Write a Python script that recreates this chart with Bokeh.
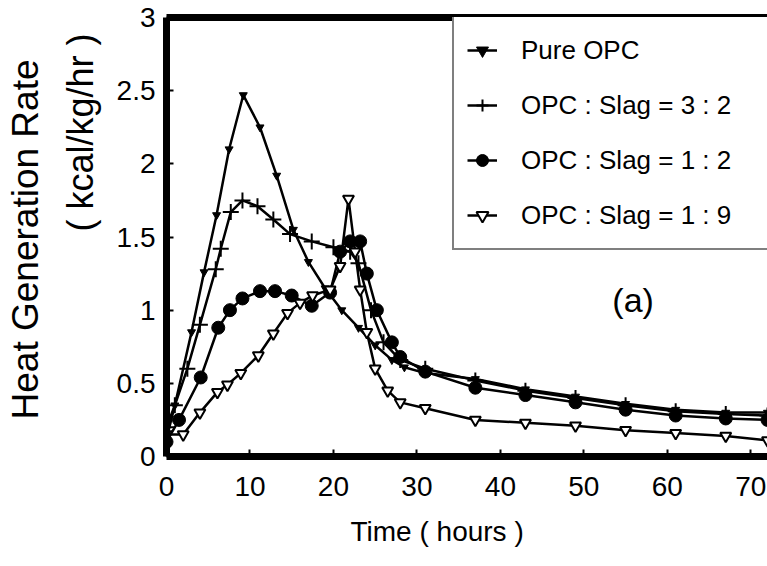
from bokeh.plotting import figure
from bokeh.models import (Range1d, FixedTicker, LinearAxis, Label, Legend,
                          LegendItem, Title)
from bokeh.embed import file_html
from bokeh.resources import INLINE

FONT = "Liberation Sans"

# ---------------- data ----------------
x_ticks = [0, 10, 20, 30, 40, 50, 60, 70]
y_ticks = [0, 0.5, 1, 1.5, 2, 2.5, 3]
y_tick_labels = ["0", "0.5", "1", "1.5", "2", "2.5", "3"]

series_names = ["Pure OPC", "OPC : Slag = 3 : 2", "OPC : Slag = 1 : 2",
                "OPC : Slag = 1 : 9"]

pure_t = [0, 1, 3, 4.5, 6, 7.5, 9.2, 11.2, 13.2, 15.2, 17, 19, 21, 23, 25,
          27, 28.5, 31, 37, 43, 49, 55, 61, 67, 72]
pure_y = [0.12, 0.35, 0.85, 1.26, 1.65, 2.1, 2.47, 2.25, 1.92, 1.55, 1.33,
          1.15, 1.0, 0.88, 0.76, 0.66, 0.61, 0.57, 0.53, 0.46, 0.41, 0.36,
          0.32, 0.3, 0.3]

s32_t = [0, 1, 2.5, 4, 5.9, 6.5, 7.7, 9.1, 10.9, 12.8, 14.8, 17.4, 20, 22,
         23, 24.5, 26, 28, 31, 37, 43, 49, 55, 61, 67, 72]
s32_y = [0.2, 0.35, 0.6, 0.9, 1.28, 1.42, 1.67, 1.75, 1.71, 1.62, 1.52, 1.47,
         1.43, 1.4, 1.32, 1.0, 0.78, 0.66, 0.6, 0.52, 0.45, 0.4, 0.35, 0.31,
         0.29, 0.28]

s12_t = [0, 1.5, 4.1, 6.2, 7.6, 9.1, 11.2, 13, 15, 17.4, 19.6, 20.8, 22,
         23.2, 24, 25.2, 27, 28, 31, 37, 43, 49, 55, 61, 67, 72]
s12_y = [0.1, 0.25, 0.54, 0.88, 1.0, 1.08, 1.13, 1.13, 1.1, 1.03, 1.12, 1.4,
         1.47, 1.47, 1.25, 1.0, 0.78, 0.68, 0.58, 0.47, 0.42, 0.37, 0.32,
         0.28, 0.26, 0.25]

s19_t = [0, 2, 4, 6.1, 7.3, 8.9, 11, 12.8, 14.5, 16, 17.5, 19.6, 20.8, 21.8,
         22.6, 23.2, 24, 25, 26.5, 28, 31, 37, 43, 49, 55, 61, 67, 72]
s19_y = [0.15, 0.15, 0.3, 0.44, 0.49, 0.57, 0.69, 0.84, 0.98, 1.05, 1.1,
         1.14, 1.3, 1.76, 1.4, 1.14, 0.85, 0.6, 0.45, 0.37, 0.33, 0.25, 0.23,
         0.21, 0.18, 0.16, 0.14, 0.11]

# ---------------- figure ----------------
p = figure(width=767, height=566, output_backend="svg", toolbar_location=None,
           x_range=Range1d(0, 72), y_range=Range1d(0, 3.0),
           min_border_left=166, min_border_right=0, min_border_top=17,
           min_border_bottom=110)
p.grid.visible = False
p.outline_line_color = None
p.background_fill_color = "white"

for ax, ticks in ((p.xaxis[0], x_ticks), (p.yaxis[0], y_ticks)):
    ax.ticker = FixedTicker(ticks=ticks)
    ax.axis_line_color = "black"
    ax.axis_line_width = 7
    ax.major_tick_in = 7
    ax.major_tick_out = 0
    ax.major_tick_line_width = 2
    ax.minor_tick_line_color = None
    ax.major_label_text_font = FONT
    ax.major_label_text_font_size = "28px"
    ax.major_label_text_color = "black"

p.xaxis[0].major_label_standoff = 20
p.yaxis[0].major_label_standoff = 11
p.yaxis[0].major_label_overrides = {t: s for t, s in zip(y_ticks, y_tick_labels)}

top = LinearAxis(ticker=FixedTicker(ticks=[]), axis_line_width=7,
                 axis_line_color="black", major_label_text_font_size="0px",
                 major_tick_line_color=None, minor_tick_line_color=None)
p.add_layout(top, "above")

# ---------------- series ----------------
data = [
    (pure_t, pure_y, dict(marker="inverted_triangle", size=8,
                          fill_color="black", line_color="black",
                          line_width=1)),
    (s32_t, s32_y, dict(marker="cross", size=16, line_color="black",
                        line_width=2)),
    (s12_t, s12_y, dict(marker="circle", size=13, fill_color="black",
                        line_color="black", line_width=1)),
    (s19_t, s19_y, dict(marker="inverted_triangle", size=11,
                        fill_color="white", line_color="black",
                        line_width=2)),
]

items = []
for name, (t, y, mk) in zip(series_names, data):
    rl = p.line(t, y, line_color="black", line_width=2.5)
    rs = p.scatter(t, y, **mk)
    items.append(LegendItem(label=name, renderers=[rl, rs]))

legend = Legend(items=items, location=(286, 206), padding=13, spacing=15,
                glyph_width=30, glyph_height=40, label_height=40,
                label_width=260, label_standoff=24, margin=0,
                border_line_color="black", border_line_width=2,
                background_fill_color="white", background_fill_alpha=1.0,
                label_text_font=FONT, label_text_font_size="26px",
                label_text_color="black")
p.add_layout(legend)

# ---------------- texts ----------------
p.add_layout(Label(x=55.9, y=1.07, text="(a)", text_font=FONT,
                   text_font_size="34px", text_align="center",
                   text_baseline="middle", text_color="black"))

p.add_layout(Title(text="Time ( hours )", align="left", offset=184,
                   standoff=30, text_font=FONT, text_font_size="28px",
                   text_font_style="normal", text_color="black"), "below")
p.add_layout(Title(text="( kcal/kg/hr )", align="right", offset=16,
                   standoff=25, text_font=FONT, text_font_size="36px",
                   text_font_style="normal", text_color="black"), "left")
p.add_layout(Title(text="Heat Generation Rate", align="right", offset=42,
                   standoff=0, text_font=FONT, text_font_size="37px",
                   text_font_style="normal", text_color="black"), "left")

open("out.html", "w").write(file_html(p, INLINE))
